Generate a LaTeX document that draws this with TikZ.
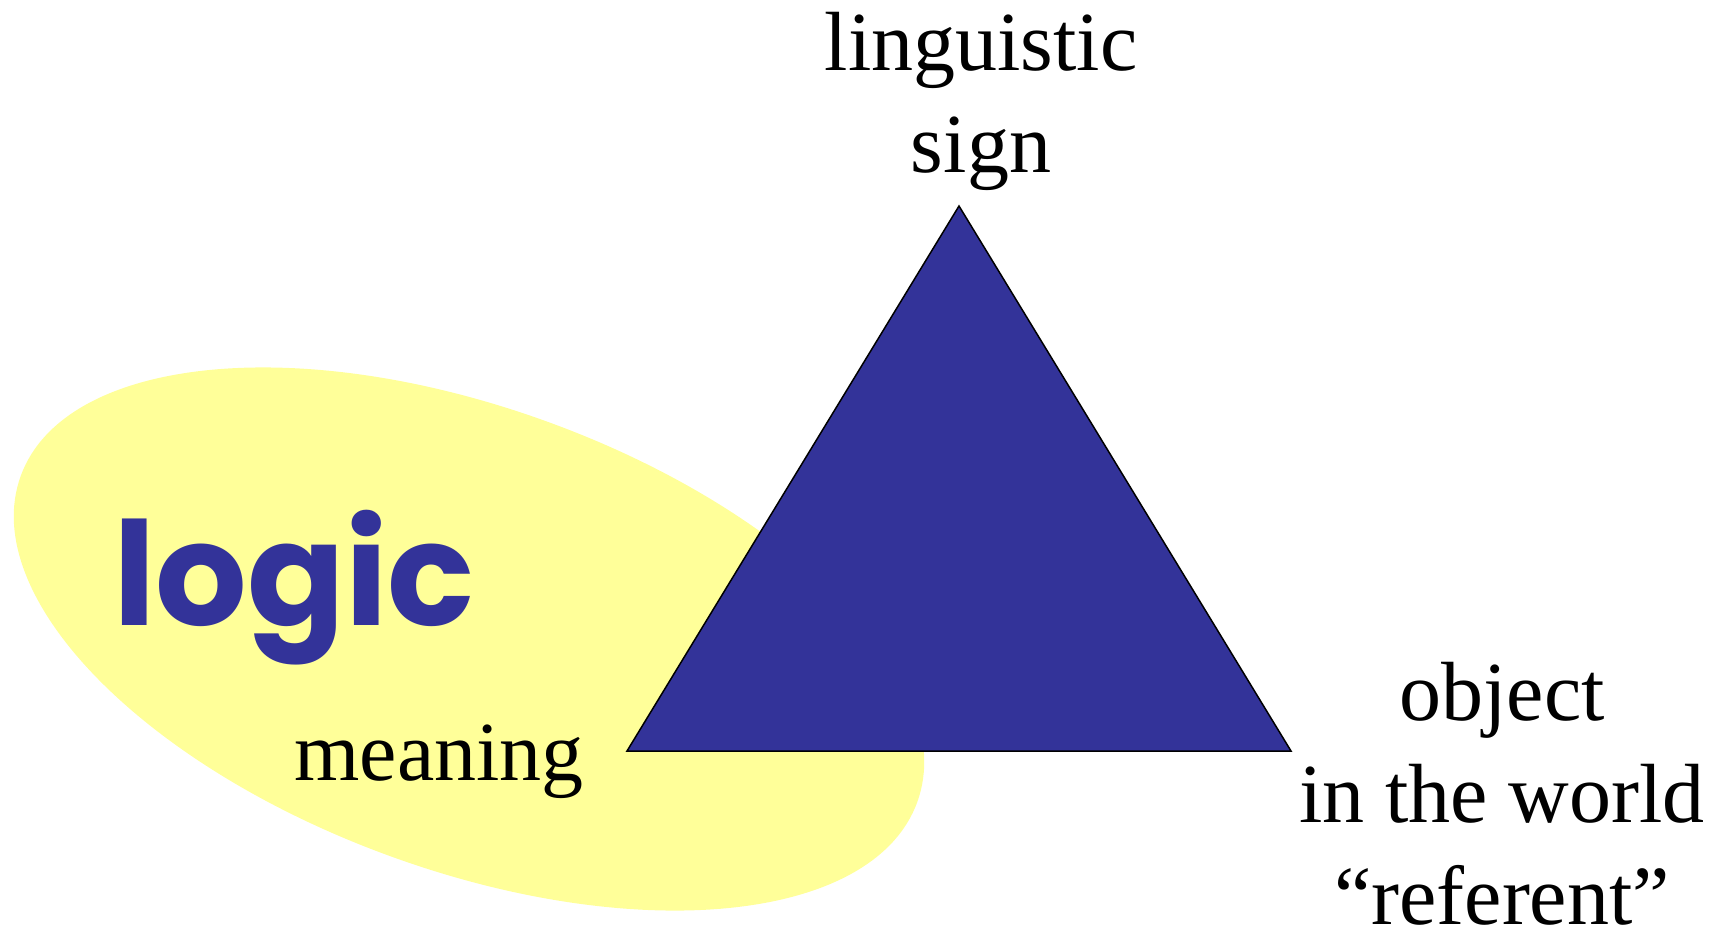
\documentclass[tikz,border=0pt]{standalone}
\usepackage{fontspec}
\setmainfont{Liberation Serif}
\newfontfamily\logicfont{Poppins}
\definecolor{triblue}{RGB}{51,51,153}
\definecolor{paleyellow}{RGB}{255,255,153}
\tikzset{
  label text/.style={font=\fontsize{42}{51}\selectfont, align=center, inner sep=0pt, anchor=base},
}
\begin{document}
\begin{tikzpicture}[x=0.5pt,y=-0.5pt]
\useasboundingbox (0,0) rectangle (1719,932);

\fill[paleyellow, rotate around={-20:(469,639)}] (469,639) ellipse [x radius=477, y radius=231];

\coordinate (S) at (959,206);
\coordinate (M) at (627,751);
\coordinate (R) at (1291,751);
\draw[fill=triblue, line width=0.75pt, line join=miter] (S) -- (M) -- (R) -- cycle;

% base anchor sits on the last line
\node[label text] (sign) at (981,172) {linguistic\\sign};
\node[label text] (object) at (1502,924) {object\\in the world\\``referent''};
\node[label text] (meaning) at (439,780) {meaning};
\node[font=\logicfont\bfseries\fontsize{72}{78}\selectfont, text=triblue, inner sep=0pt, anchor=base west] (logic) at (113,625) {logic};
\end{tikzpicture}
\end{document}
